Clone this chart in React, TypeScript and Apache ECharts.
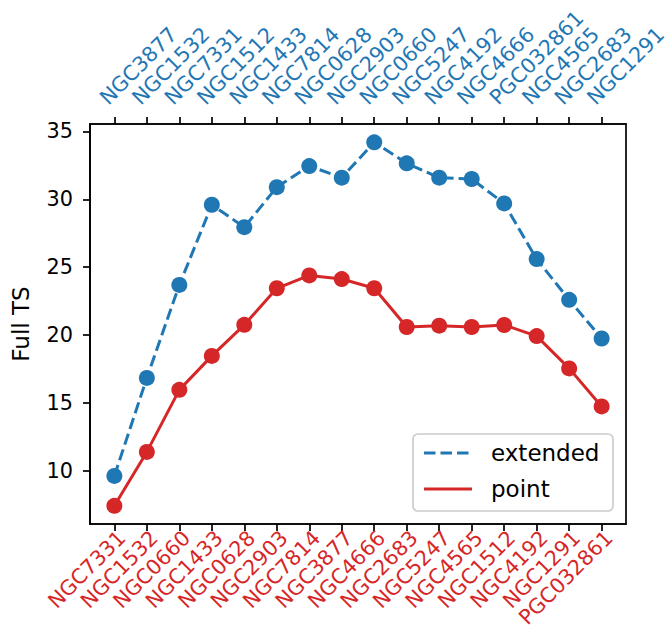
import React, { useEffect, useRef } from "react";
import * as echarts from "echarts";

const bottomNames = ["NGC7331", "NGC1532", "NGC0660", "NGC1433", "NGC0628", "NGC2903", "NGC7814", "NGC3877", "NGC4666", "NGC2683", "NGC5247", "NGC4565", "NGC1512", "NGC4192", "NGC1291", "PGC032861"];
const topNames = ["NGC3877", "NGC1532", "NGC7331", "NGC1512", "NGC1433", "NGC7814", "NGC0628", "NGC2903", "NGC0660", "NGC5247", "NGC4192", "NGC4666", "PGC032861", "NGC4565", "NGC2683", "NGC1291"];
const extendedValues = [9.63, 16.85, 23.7, 29.6, 27.95, 30.9, 32.45, 31.6, 34.2, 32.65, 31.6, 31.5, 29.7, 25.6, 22.6, 19.75];
const pointValues = [7.43, 11.4, 15.97, 18.47, 20.76, 23.45, 24.4, 24.13, 23.45, 20.6, 20.7, 20.6, 20.75, 19.93, 17.55, 14.75];
const yTicks = [10, 15, 20, 25, 30, 35];

const BLUE = "#1f77b4";
const RED = "#d62728";
const FONT = "DejaVu Sans";
const TICK_FS = 20.8;
const FS = 23;

export default function App() {
  const ref = useRef<HTMLDivElement>(null);
  useEffect(() => {
    const chart = echarts.init(ref.current!, undefined, { renderer: "svg" });
    const idx = bottomNames.map((_, i) => i);
    const xBase = {
      type: "value" as const,
      min: -0.75,
      max: 15.75,
      splitLine: { show: false },
      axisLine: { show: true, onZero: false, lineStyle: { color: "#000", width: 1.7 } },
      axisTick: { show: true, customValues: idx, length: 7, lineStyle: { color: "#000", width: 1.7 } },
    };
    const labelBase = {
      customValues: idx,
      fontSize: TICK_FS,
      fontFamily: FONT,
      showMinLabel: true,
      showMaxLabel: true,
      hideOverlap: false,
    };
    chart.setOption({
      animation: false,
      grid: {
        left: 90, top: 124, width: 536, height: 400,
        containLabel: false, outerBoundsMode: "none",
        show: true, borderColor: "#000", borderWidth: 1.7, backgroundColor: "transparent",
      },
      xAxis: [
        {
          ...xBase,
          position: "bottom",
          axisLabel: {
            ...labelBase,
            rotate: 45,
            margin: 3,
            verticalAlign: "top",
            color: RED,
            formatter: (v: number) => bottomNames[Math.round(v)],
          },
        },
        {
          ...xBase,
          position: "top",
          axisLabel: {
            ...labelBase,
            rotate: -45,
            margin: 19,
            verticalAlign: "bottom",
            padding: [0, 0, 0, -5],
            color: BLUE,
            formatter: (v: number) => topNames[Math.round(v)],
          },
        },
      ],
      yAxis: {
        type: "value",
        min: 6.09,
        max: 35.55,
        name: "Full TS",
        nameLocation: "middle",
        nameGap: 58,
        nameTextStyle: { fontSize: FS, fontFamily: FONT, color: "#000" },
        splitLine: { show: false },
        axisLine: { show: true, onZero: false, lineStyle: { color: "#000", width: 1.7 } },
        axisTick: { show: true, customValues: yTicks, length: 7, lineStyle: { color: "#000", width: 1.7 } },
        axisLabel: { customValues: yTicks, margin: 17, color: "#000", fontSize: TICK_FS, fontFamily: FONT },
      },
      series: [
        {
          name: "extended",
          type: "line",
          xAxisIndex: 1,
          data: extendedValues.map((v, i) => [i, v]),
          symbol: "circle",
          symbolSize: 16,
          itemStyle: { color: BLUE },
          lineStyle: { color: BLUE, width: 3, type: [11.5, 5] },
        },
        {
          name: "point",
          type: "line",
          xAxisIndex: 0,
          data: pointValues.map((v, i) => [i, v]),
          symbol: "circle",
          symbolSize: 16,
          itemStyle: { color: RED },
          lineStyle: { color: RED, width: 3 },
        },
      ],
      graphic: [
        {
          type: "rect",
          shape: { x: 413, y: 434, width: 200, height: 77, r: 5 },
          style: { fill: "rgba(255,255,255,0.8)", stroke: "#cccccc", lineWidth: 1.7 },
          z: 100,
        },
        {
          type: "line",
          shape: { x1: 424, y1: 453, x2: 472, y2: 453 },
          style: { stroke: BLUE, lineWidth: 3, lineDash: [11.5, 5] },
          z: 101,
        },
        {
          type: "line",
          shape: { x1: 424, y1: 489, x2: 472, y2: 489 },
          style: { stroke: RED, lineWidth: 3 },
          z: 101,
        },
        {
          type: "text",
          x: 491,
          y: 453,
          style: { text: "extended", fill: "#000", fontSize: FS, fontFamily: FONT, textVerticalAlign: "middle" },
          z: 101,
        },
        {
          type: "text",
          x: 491,
          y: 489,
          style: { text: "point", fill: "#000", fontSize: FS, fontFamily: FONT, textVerticalAlign: "middle" },
          z: 101,
        },
      ],
    });
    return () => chart.dispose();
  }, []);
  return <div ref={ref} style={{ position: "fixed", left: 0, top: 0, width: 670, height: 641, background: "#fff" }} />;
}
